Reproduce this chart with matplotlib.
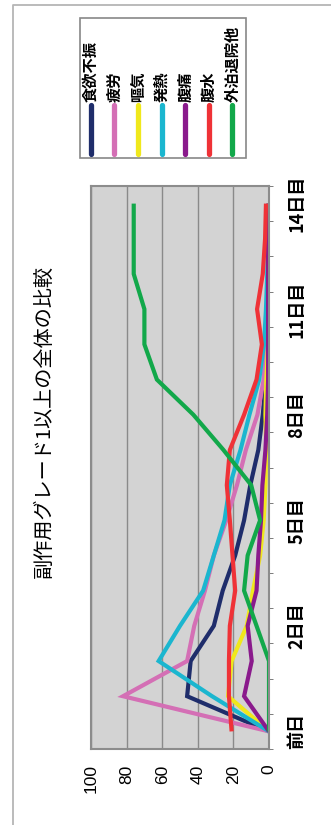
import matplotlib
matplotlib.use("Agg")
import matplotlib.pyplot as plt
from matplotlib.lines import Line2D
from matplotlib.patches import Rectangle

W, H = 331, 825

title = "副作用グレード1以上の全体の比較"
days = ["前日", "当日", "1日目", "2日目", "3日目", "4日目", "5日目", "6日目",
        "7日目", "8日目", "9日目", "10日目", "11日目", "12日目", "13日目", "14日目"]
shown_days = [0, 3, 6, 9, 12, 15]
value_ticks = [0, 20, 40, 60, 80, 100]

names = ["食欲不振", "疲労", "嘔気", "発熱", "腹痛", "腹水", "外泊退院他"]
colors = ["#1f2d6b", "#d46fb5", "#f0e81c", "#1bb6cf", "#8a1a8c", "#ef3237", "#12a84a"]

appetite = [0, 46, 44, 31, 26, 19, 14, 10.5, 6, 3.5, 1.7, 1, 0.5, 0, 0, 0]
fatigue = [0, 82, 46, 42, 36, 31, 24, 18, 13, 6.5, 3, 1.7, 1, 0.5, 0, 0]
nausea = [0, 23, 21, 12.5, 9, 5, 3, 2, 1.5, 2, 1.5, 0.5, 0, 0, 0, 0]
fever = [0, 32, 62, 50, 37, 31, 25, 22, 16, 11, 5.5, 2.8, 1.7, 1, 0.5, 0]
abdominal_pain = [0, 14, 9.7, 12, 7, 6, 4.5, 3.7, 2, 1, 0.5, 0.5, 0.5, 0.5, 0.5, 0.5]
ascites = [21, 22.5, 22.5, 22, 19, 20.5, 22, 23.7, 22, 14, 7, 4, 6.7, 3.5, 2.2, 1.7]
discharge = [0, 0, 0, 7, 14, 12, 5, 10, 25.6, 42.5, 63, 70, 70, 76, 76, 76]
series = [appetite, fatigue, nausea, fever, abdominal_pain, ascites, discharge]

CJK = ["Noto Sans CJK JP", "DejaVu Sans"]
NUM = ["Liberation Sans", "DejaVu Sans"]

fig = plt.figure(figsize=(W / 100, H / 100), dpi=100)


def fx(x):
    return x / W


def fy(y):
    return 1 - y / H


# outer frame (left and top edges)
fig.lines.append(Line2D([fx(13), fx(13), fx(331)], [fy(825), fy(5), fy(5)],
                        transform=fig.transFigure, color="#b5b5b5", lw=1.3))

# plot area
L, R, T, B = 91, 269, 186, 749
ax = fig.add_axes([fx(L), fy(B), fx(R) - fx(L), fy(T) - fy(B)])
ax.set_facecolor("#d3d3d3")
idx = list(range(len(days)))
for vals, c in zip(series, colors):
    ax.plot(vals, idx, color=c, lw=3, solid_joinstyle="miter", solid_capstyle="butt")
ax.set_xlim(100, 0)
ax.set_ylim(-0.5, len(days) - 0.5)

ax.set_xticks(value_ticks)
ax.set_xticklabels([str(v) for v in value_ticks], rotation=90, family=NUM, fontsize=12.5)
ax.tick_params(axis="x", length=0, pad=11)
ax.grid(axis="x", color="#8a8a8a", lw=1)
ax.set_axisbelow(True)

ax.yaxis.tick_right()
ax.set_yticks(shown_days)
ax.set_yticklabels([days[i] for i in shown_days], rotation=90, va="center",
                   family=CJK, fontsize=13, fontweight="bold")
ax.set_yticks([i - 0.5 for i in range(len(days) + 1)], minor=True)
ax.tick_params(axis="y", which="major", length=0, pad=13)
ax.tick_params(axis="y", which="minor", length=3, color="#666666", direction="out")
for s in ax.spines.values():
    s.set_color("#8c8c8c")
    s.set_linewidth(1.5)

# title
fig.text(fx(44), fy(421), title, rotation=90, ha="center", va="center",
         family=CJK, fontsize=14.5)

# legend
lx0, lx1, ly0, ly1 = 80, 246, 18, 158
fig.patches.append(Rectangle((fx(lx0), fy(ly1)), fx(lx1) - fx(lx0), fy(ly0) - fy(ly1),
                             transform=fig.transFigure, facecolor="white",
                             edgecolor="#888888", lw=1.2))
for k, (n, c) in enumerate(zip(names, colors)):
    xc = 90.7 + k * 23.6
    fig.lines.append(Line2D([fx(xc), fx(xc)], [fy(154), fy(105)], transform=fig.transFigure,
                            color=c, lw=3.8, solid_capstyle="round"))
    fig.text(fx(xc), fy(102), n, rotation=90, ha="center", va="bottom",
             family=CJK, fontsize=11, fontweight="bold")

fig.savefig("out.png", dpi=100)
